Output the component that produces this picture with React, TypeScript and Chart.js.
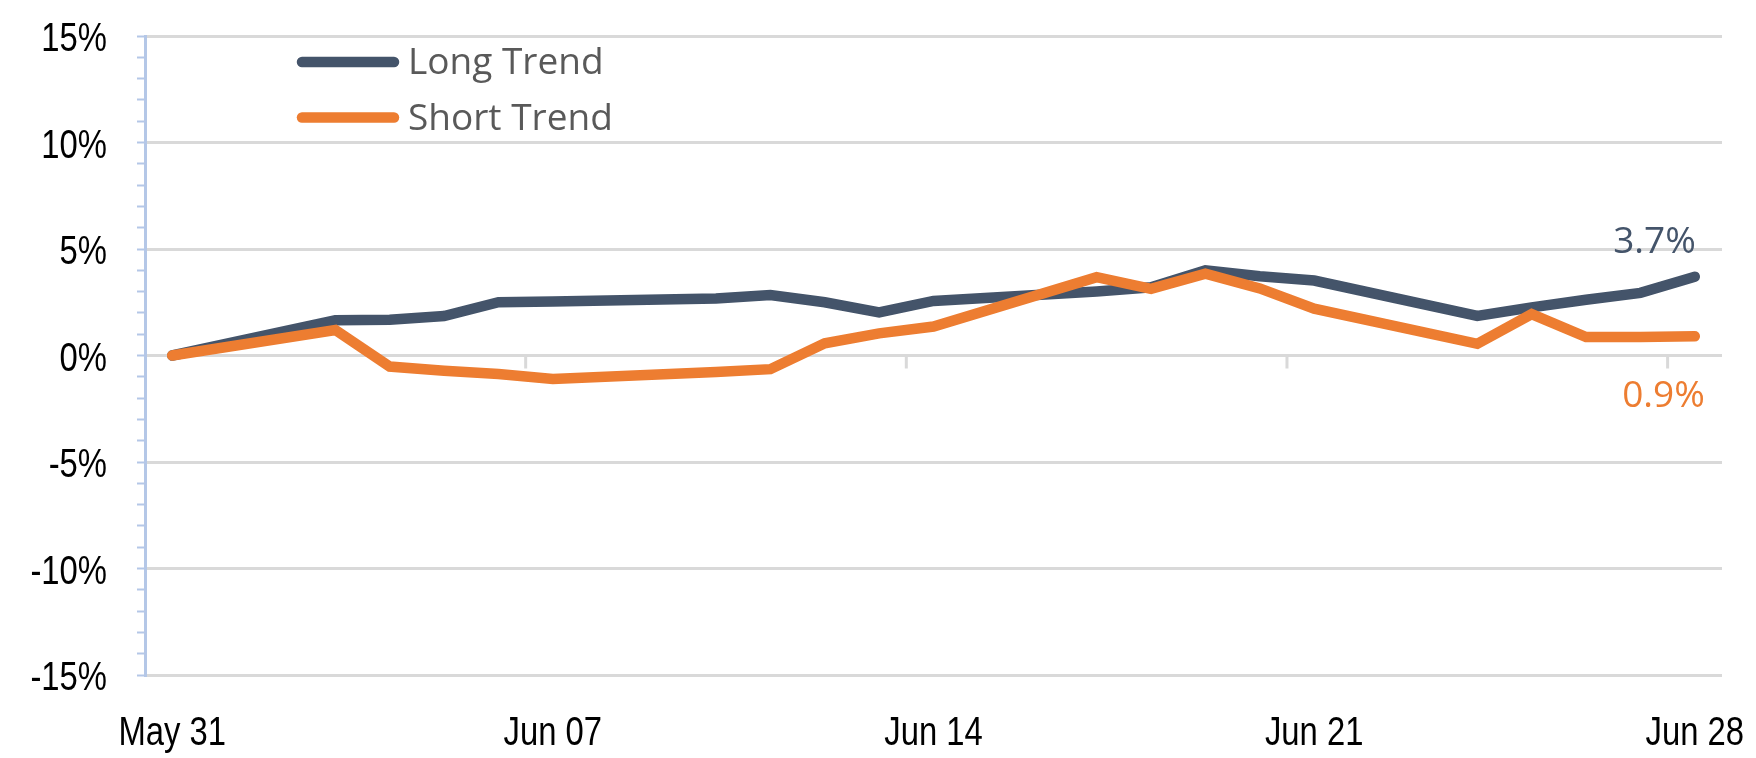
import React, { useEffect, useRef } from 'react';
import { Chart, registerables } from 'chart.js';

Chart.register(...registerables);

// Every calendar day from May 31 to Jun 28 (null = no observation)
const dates: string[] = [
  'May 31', 'Jun 01', 'Jun 02', 'Jun 03', 'Jun 04', 'Jun 05', 'Jun 06', 'Jun 07',
  'Jun 08', 'Jun 09', 'Jun 10', 'Jun 11', 'Jun 12', 'Jun 13', 'Jun 14',
  'Jun 15', 'Jun 16', 'Jun 17', 'Jun 18', 'Jun 19', 'Jun 20', 'Jun 21',
  'Jun 22', 'Jun 23', 'Jun 24', 'Jun 25', 'Jun 26', 'Jun 27', 'Jun 28',
];

const tickLabels: string[] = ['May 31', 'Jun 07', 'Jun 14', 'Jun 21', 'Jun 28'];

const seriesNames: string[] = ['Long Trend', 'Short Trend'];
const seriesColors: string[] = ['#44546a', '#ed7d31'];

const longTrend: (number | null)[] = [
  0, null, null, 1.66, 1.68, 1.85, 2.5, 2.53,
  null, null, 2.68, 2.84, 2.5, 2.02, 2.56,
  null, null, 3.0, 3.2, 4.0, 3.72, 3.52,
  null, null, 1.86, 2.26, 2.62, 2.94, 3.7,
];

const shortTrend: (number | null)[] = [
  0, null, null, 1.2, -0.52, -0.72, -0.87, -1.1,
  null, null, -0.77, -0.64, 0.57, 1.04, 1.36,
  null, null, 3.68, 3.13, 3.84, 3.15, 2.2,
  null, null, 0.55, 1.94, 0.87, 0.87, 0.9,
];

const yMin = -15;
const yMax = 15;
const yMajorStep = 5;
const yTickValues: number[] = [15, 10, 5, 0, -5, -10, -15];

const axisFont = "'Liberation Sans', Arial, sans-serif";
const textFont = "'Open Sans', 'Noto Sans', sans-serif";

// Arial-Narrow-like labels: Liberation Sans squeezed horizontally
const axisLabelPlugin = {
  id: 'axisLabels',
  afterDraw(chart: any) {
    const ctx = chart.ctx;
    const xs = chart.scales.x;
    const ys = chart.scales.y;
    const squeeze = 0.82;
    ctx.save();
    ctx.fillStyle = '#000000';
    ctx.font = `40px ${axisFont}`;
    ctx.textBaseline = 'alphabetic';
    yTickValues.forEach((v) => {
      const py = ys.getPixelForValue(v);
      ctx.save();
      ctx.translate(ys.right - 38, py + 15);
      ctx.scale(squeeze, 1);
      ctx.textAlign = 'right';
      ctx.fillText(`${v}%`, 0, 0);
      ctx.restore();
    });
    dates.forEach((d, i) => {
      if (!tickLabels.includes(d)) return;
      const px = xs.getPixelForValue(i);
      ctx.save();
      ctx.translate(px, chart.chartArea.bottom + 70);
      ctx.scale(squeeze, 1);
      ctx.textAlign = 'center';
      ctx.fillText(d, 0, 0);
      ctx.restore();
    });
    ctx.restore();
  },
};

const tickMarkPlugin = {
  id: 'zeroLineTicks',
  beforeDatasetsDraw(chart: any) {
    const x = chart.scales.x;
    const y = chart.scales.y;
    const ctx = chart.ctx;
    const y0 = y.getPixelForValue(0);
    ctx.save();
    ctx.strokeStyle = '#d9d9d9';
    ctx.lineWidth = 3;
    dates.forEach((d, i) => {
      if (i > 0 && tickLabels.includes(d)) {
        const px = (x.getPixelForValue(i - 1) + x.getPixelForValue(i)) / 2;
        ctx.beginPath();
        ctx.moveTo(px, y0);
        ctx.lineTo(px, y0 + 13);
        ctx.stroke();
      }
    });
    ctx.restore();
  },
};

const endLabelPlugin = {
  id: 'endLabels',
  afterDatasetsDraw(chart: any) {
    const ctx = chart.ctx;
    ctx.save();
    ctx.font = `37px ${textFont}`;
    ctx.textAlign = 'right';
    ctx.textBaseline = 'alphabetic';
    chart.data.datasets.forEach((ds: any, di: number) => {
      const meta = chart.getDatasetMeta(di);
      const last = ds.data.length - 1;
      const pt = meta.data[last];
      const val = ds.data[last];
      if (!pt || val == null) return;
      ctx.fillStyle = seriesColors[di];
      const text = `${val.toFixed(1)}%`;
      if (di === 0) {
        ctx.fillText(text, pt.x + 1, pt.y - 24);
      } else {
        ctx.fillText(text, pt.x + 10, pt.y + 71);
      }
    });
    ctx.restore();
  },
};

const legendPlugin = {
  id: 'customLegend',
  afterDraw(chart: any) {
    const ctx = chart.ctx;
    ctx.save();
    seriesNames.forEach((name, i) => {
      const cy = 62 + i * 55.5;
      ctx.strokeStyle = seriesColors[i];
      ctx.lineWidth = 10.5;
      ctx.lineCap = 'round';
      ctx.beginPath();
      ctx.moveTo(302, cy);
      ctx.lineTo(394, cy);
      ctx.stroke();
      ctx.fillStyle = '#595959';
      ctx.font = `37px ${textFont}`;
      ctx.textAlign = 'left';
      ctx.textBaseline = 'alphabetic';
      ctx.fillText(name, 408, cy + 12);
    });
    ctx.restore();
  },
};

export default function App() {
  const canvasRef = useRef<HTMLCanvasElement | null>(null);

  useEffect(() => {
    const canvas = canvasRef.current;
    if (!canvas) return;
    const chart = new Chart(canvas, {
      type: 'line',
      data: {
        labels: dates,
        datasets: [
          {
            label: seriesNames[0],
            data: longTrend,
            borderColor: seriesColors[0],
            backgroundColor: seriesColors[0],
            borderWidth: 10.5,
            pointRadius: 0,
            tension: 0,
            spanGaps: true,
            borderCapStyle: 'round',
            borderJoinStyle: 'miter',
            order: 2,
          },
          {
            label: seriesNames[1],
            data: shortTrend,
            borderColor: seriesColors[1],
            backgroundColor: seriesColors[1],
            borderWidth: 10.5,
            pointRadius: 0,
            tension: 0,
            spanGaps: true,
            borderCapStyle: 'round',
            borderJoinStyle: 'miter',
            order: 1,
          },
        ],
      },
      options: {
        responsive: false,
        animation: false,
        devicePixelRatio: 1,
        layout: { padding: { top: 36, right: 34, bottom: 0, left: 0 } },
        plugins: {
          legend: { display: false },
          tooltip: { enabled: false },
        },
        scales: {
          x: {
            type: 'category',
            offset: true,
            grid: { display: false, drawTicks: false },
            border: { display: false },
            ticks: { display: false, autoSkip: false, maxRotation: 0, minRotation: 0 },
            afterFit: (scale: any) => {
              scale.height = 83;
            },
          },
          y: {
            type: 'linear',
            min: yMin,
            max: yMax,
            grid: {
              color: (ctx: any) =>
                ctx.tick && ctx.tick.value % yMajorStep === 0 ? '#d9d9d9' : 'rgba(0,0,0,0)',
              lineWidth: 3,
              tickColor: '#b4c7e7',
              tickWidth: 2,
              tickLength: 8,
              drawTicks: true,
            },
            border: { display: true, color: '#b4c7e7', width: 3 },
            ticks: { display: false, stepSize: 1, autoSkip: false },
            afterFit: (scale: any) => {
              scale.width = 145;
            },
          },
        },
      },
      plugins: [tickMarkPlugin, endLabelPlugin, legendPlugin, axisLabelPlugin],
    });
    return () => chart.destroy();
  }, []);

  return (
    <div style={{ position: 'fixed', left: 0, top: 0, width: 1756, height: 758, background: '#ffffff' }}>
      <canvas ref={canvasRef} width={1756} height={758} style={{ display: 'block', width: 1756, height: 758 }} />
    </div>
  );
}
